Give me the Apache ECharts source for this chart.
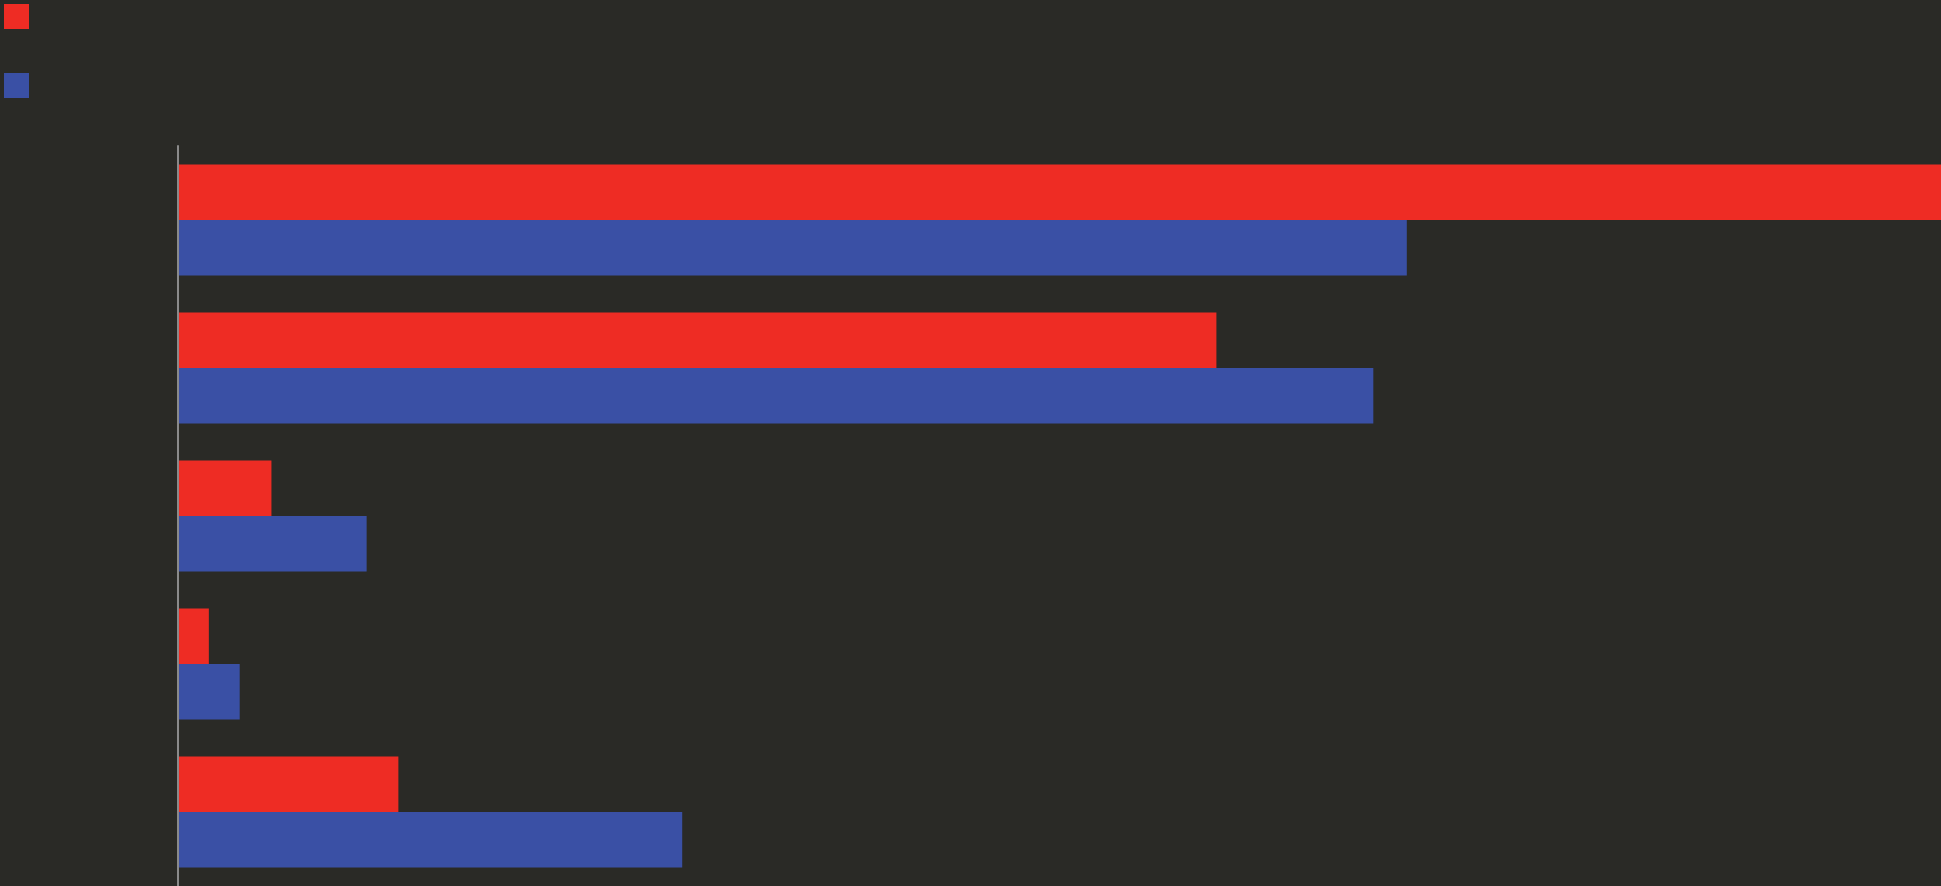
<!DOCTYPE html>
<html>
<head>
<meta charset="utf-8">
<script src="https://cdn.jsdelivr.net/npm/echarts@6/dist/echarts.min.js"></script>
<style>
html, body { margin: 0; padding: 0; background: #2a2a26; }
#chart { width: 1941px; height: 886px; }
</style>
</head>
<body>
<div id="chart"></div>
<script>
// 数据
var categories = ['A', 'B', 'C', 'D', 'E'];
var seriesNames = ['Series 1', 'Series 2'];
var redValues = [104, 58.9, 5.3, 1.75, 12.5];
var blueValues = [69.7, 67.8, 10.7, 3.5, 28.6];
var xMax = 100;

var chart = echarts.init(document.getElementById('chart'));

var option = {
    backgroundColor: '#2a2a26',
    animation: false,
    legend: {
        orient: 'vertical',
        left: 4,
        top: 4,
        padding: 0,
        icon: 'rect',
        itemWidth: 25,
        itemHeight: 25,
        itemGap: 44,
        formatter: function() { return ''; },
        data: seriesNames
    },
    grid: {
        left: 178,
        right: 0,
        top: 146,
        bottom: -2,
        containLabel: false
    },
    xAxis: {
        type: 'value',
        min: 0,
        max: xMax,
        axisLine: { show: false },
        axisTick: { show: false },
        axisLabel: { show: false },
        splitLine: { show: false }
    },
    yAxis: {
        type: 'category',
        inverse: true,
        z: 5,
        data: categories,
        axisLine: {
            show: true,
            lineStyle: { color: '#8a8a8a', width: 2 }
        },
        axisTick: { show: false },
        axisLabel: { show: false },
        splitLine: { show: false }
    },
    series: [
        {
            name: seriesNames[0],
            type: 'bar',
            data: redValues,
            barGap: '0%',
            barCategoryGap: '25%',
            clip: true,
            itemStyle: { color: '#ee2c24' }
        },
        {
            name: seriesNames[1],
            type: 'bar',
            data: blueValues,
            barGap: '0%',
            barCategoryGap: '25%',
            clip: true,
            itemStyle: { color: '#3a50a5' }
        }
    ]
};

chart.setOption(option);
</script>
</body>
</html>
